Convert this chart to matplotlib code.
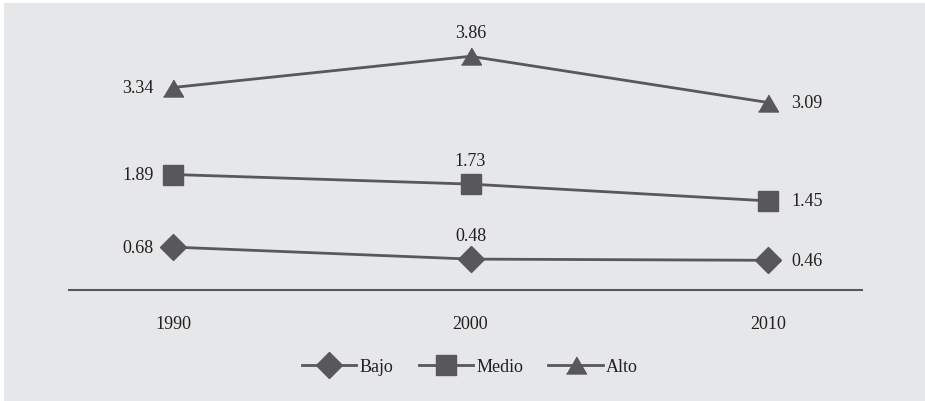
import matplotlib.pyplot as plt
import numpy as np

# datos
years = ["1990", "2000", "2010"]
bajo = [0.68, 0.48, 0.46]
medio = [1.89, 1.73, 1.45]
alto = [3.34, 3.86, 3.09]

plt.rcParams['font.family'] = ['Liberation Serif', 'DejaVu Serif']

gris = '#e6e7e8'
oscuro = '#58585a'
texto = '#231f20'

fig = plt.figure(figsize=(9.25, 4.02), dpi=100)
fig.patch.set_facecolor('white')
# fondo gris del recuadro
fondo = plt.Rectangle((4/925, 0), 1, 1 - 4/402, transform=fig.transFigure,
                      facecolor=gris, edgecolor='none', zorder=-10)
fig.add_artist(fondo)

ax = fig.add_axes([69/925, (402-291)/402, (862-69)/925, (291-10)/402])
ax.set_facecolor('none')
ax.set_zorder(5)

x = np.arange(len(years))
tri = [(-1, -0.85), (1, -0.85), (0, 0.85)]
series = [(bajo, 'D', 13.6, 'Bajo'), (medio, 's', 15, 'Medio'), (alto, tri, 14.4, 'Alto')]
for vals, mk, ms, name in series:
    ax.plot(x, vals, color=oscuro, lw=2, marker=mk, markersize=ms, label=name,
            markerfacecolor=oscuro, markeredgecolor=oscuro, clip_on=False)
    # etiquetas de valores
    ax.annotate("%.2f" % vals[0], (x[0], vals[0]), xytext=(-14, 0), textcoords='offset points',
                ha='right', va='center', fontsize=13, color=texto)
    ax.annotate("%.2f" % vals[1], (x[1], vals[1]), xytext=(0, 17), textcoords='offset points',
                ha='center', va='center', fontsize=13, color=texto)
    ax.annotate("%.2f" % vals[2], (x[2], vals[2]), xytext=(17, 0), textcoords='offset points',
                ha='left', va='center', fontsize=13, color=texto)

px = 297.5
ax.set_xlim(-(173-69)/px, 2 + (862-768)/px)
ax.set_ylim(-0.035, (291-10)/60 - 0.035)
ax.set_xticks(x)
ax.set_xticklabels(years, fontsize=13, color=texto)
ax.tick_params(axis='x', length=0, pad=18)
ax.set_yticks([])
for s in ['top', 'right', 'left']:
    ax.spines[s].set_visible(False)
ax.spines['bottom'].set_color(oscuro)
ax.spines['bottom'].set_linewidth(1.5)

leg = fig.legend(loc='center', bbox_to_anchor=(0.508, 1 - 368/402), ncol=3, frameon=False,
                 fontsize=13, handlelength=3.0, handletextpad=0.2, columnspacing=1.4)
for t in leg.get_texts():
    t.set_color(texto)

plt.savefig('out.png', dpi=100, facecolor=fig.get_facecolor())
